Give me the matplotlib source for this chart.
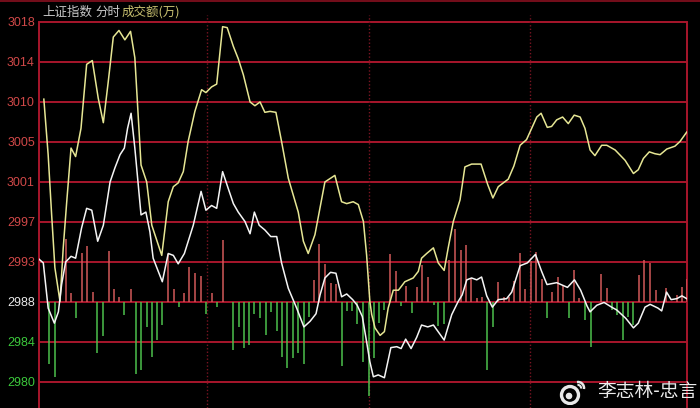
import matplotlib
matplotlib.use("Agg")
import matplotlib.pyplot as plt
from matplotlib.patches import Circle, Arc

# ---------------- data ----------------
prev_close = 2988.3
grid_step = 4.25
tick_labels = ["2980", "2984", "2988", "2993", "2997", "3001", "3005", "3010", "3014", "3018"]
tick_colors = ["#3cc83c", "#3cc83c", "#e8e8e8", "#d04848", "#d04848", "#d04848",
               "#d04848", "#d04848", "#d04848", "#d04848"]

# yellow line (minutes, price)
yellow_t = [-0.6, 1.0, 2.3, 3.5, 5.4, 6.6, 7.9, 9.5, 11.2, 13.2, 15.3, 17.4, 19.6, 21.5, 23.3,
            25.2, 27.3, 29.5, 31.6, 33.2, 35.5, 37.6, 39.5, 43.2, 45.6, 47.5, 49.3, 51.2, 53.0,
            55.5, 58.0, 59.6, 61.7, 63.6, 65.8, 67.5, 69.8, 71.6, 73.5, 76.0, 77.8, 79.7, 81.5,
            83.4, 85.6, 87.7, 90.2, 93.9, 95.8, 97.6, 100.1, 103.8, 107.5, 110.0, 111.9, 114.3,
            116.2, 118.1, 119.3, 120.5, 121.2, 122.4, 124.3, 125.9, 127.3, 129.2, 131.1, 133.5,
            136.6, 138.5, 139.7, 141.6, 144.1, 145.9, 148.1, 149.6, 151.5, 154.0, 155.8, 158.3,
            161.8, 164.3, 166.2, 168.2, 171.9, 174.0, 176.3, 178.7, 180.6, 182.5, 184.1, 186.4,
            188.0, 189.9, 192.1, 194.2, 196.4, 198.6, 200.4, 202.3, 204.1, 206.6, 208.5, 211.6,
            215.3, 218.4, 220.2, 222.1, 224.3, 226.4, 228.3, 230.8, 233.8, 235.7, 238.2]
yellow_v = [3009.8, 3003.9, 2997.5, 2991.9, 2988.3, 2994.0, 2998.9, 3004.6, 3003.7, 3006.7,
            3013.5, 3013.9, 3009.9, 3007.3, 3011.6, 3016.4, 3017.1, 3016.1, 3017.0, 3014.2,
            3002.8, 3001.0, 2996.4, 2993.2, 2998.9, 3000.5, 3000.9, 3002.1, 3005.3, 3008.5,
            3010.8, 3010.5, 3011.1, 3011.4, 3017.5, 3017.4, 3015.4, 3014.1, 3012.4, 3009.5,
            3009.1, 3009.5, 3008.4, 3008.5, 3008.4, 3005.3, 3001.4, 2997.8, 2994.7, 2993.4,
            2995.4, 3001.0, 3001.7, 2998.9, 2998.7, 2998.9, 2998.6, 2996.8, 2993.2, 2988.3,
            2986.9, 2985.5, 2984.7, 2985.1, 2987.6, 2989.5, 2989.5, 2990.4, 2990.8, 2991.5,
            2992.9, 2993.4, 2994.0, 2992.4, 2991.6, 2994.0, 2996.8, 2999.1, 3002.6, 3002.9,
            3002.9, 3000.7, 2999.3, 3000.5, 3001.3, 3002.7, 3004.9, 3005.5, 3006.7, 3007.9,
            3008.3, 3006.8, 3006.9, 3007.6, 3007.9, 3007.2, 3008.1, 3007.9, 3006.7, 3004.4,
            3003.8, 3004.9, 3004.9, 3004.4, 3003.3, 3001.9, 3002.3, 3003.5, 3004.2, 3004.0,
            3003.9, 3004.5, 3004.8, 3005.3, 3006.3]

# white line (minutes, price)
white_t = [-2.4, -0.8, 1.0, 3.3, 4.8, 6.0, 7.5, 9.5, 11.2, 13.4, 15.3, 17.2, 19.4, 21.5, 24.0,
           25.8, 27.7, 29.3, 30.5, 31.8, 33.2, 35.5, 37.3, 38.8, 40.0, 43.4, 45.6, 47.5, 49.3,
           51.6, 54.9, 57.8, 59.6, 61.7, 63.6, 65.8, 67.9, 69.8, 71.6, 74.1, 76.0, 77.6, 79.4,
           81.5, 83.7, 85.9, 87.7, 90.2, 93.3, 96.0, 98.3, 100.5, 102.0, 103.8, 105.9, 107.9,
           110.0, 111.9, 114.1, 115.8, 117.7, 119.3, 120.5, 121.8, 123.6, 125.9, 128.3, 130.5,
           132.1, 133.8, 135.8, 137.9, 139.7, 142.0, 144.1, 148.1, 150.9, 153.3, 154.8, 156.5,
           158.3, 160.2, 162.0, 163.9, 166.0, 168.2, 171.3, 173.2, 176.3, 179.0, 182.0, 184.3,
           186.3, 189.9, 193.9, 196.5, 198.8, 201.2, 202.3, 204.8, 207.5, 210.3, 212.2, 215.6,
           218.4, 220.2, 222.7, 224.6, 227.5, 228.9, 230.7, 232.4, 234.5, 236.4, 238.2]
white_v = [2992.8, 2992.4, 2987.6, 2986.0, 2987.2, 2990.1, 2992.5, 2993.1, 2992.9, 2996.1,
           2998.2, 2998.0, 2994.7, 2996.4, 3001.0, 3002.5, 3003.9, 3004.6, 3006.7, 3008.3,
           3004.6, 2997.5, 2997.8, 2995.7, 2992.9, 2990.4, 2993.4, 2993.2, 2992.3, 2993.4,
           2996.4, 3000.0, 2998.0, 2998.5, 2998.2, 3002.1, 3000.3, 2998.7, 2997.8, 2996.8,
           2995.5, 2997.8, 2996.4, 2995.9, 2995.2, 2995.2, 2992.4, 2989.7, 2987.6, 2985.6,
           2986.2, 2987.0, 2989.0, 2990.8, 2991.4, 2991.3, 2988.8, 2989.1, 2988.5, 2987.9,
           2986.7, 2984.0, 2981.9, 2980.3, 2980.5, 2980.2, 2983.4, 2983.5, 2983.3, 2984.3,
           2983.3, 2984.5, 2985.8, 2985.6, 2985.8, 2984.2, 2986.9, 2988.3, 2989.0, 2990.6,
           2990.8, 2990.6, 2990.9, 2988.9, 2987.7, 2988.5, 2988.6, 2989.3, 2992.1, 2992.4,
           2993.3, 2991.5, 2990.1, 2990.3, 2989.8, 2990.6, 2989.5, 2987.8, 2987.2, 2987.9,
           2988.2, 2987.7, 2987.4, 2986.5, 2985.5, 2986.0, 2987.7, 2988.0, 2987.6, 2987.3,
           2989.3, 2988.5, 2988.6, 2988.9, 2988.6]

# volume-style bars (minutes, signed height in index points from the baseline)
red_t = [7.5, 9.5, 13.4, 15.4, 17.5, 23.6, 25.4, 27.5, 31.6, 45.6, 47.6, 51.6, 53.4, 55.7,
         57.9, 61.8, 65.8, 99.8, 101.7, 103.8, 106.0, 107.9, 128.0, 130.1, 134.0, 137.9,
         140.0, 142.0, 150.0, 152.1, 154.2, 156.2, 158.2, 160.2, 162.0, 168.2, 170.2, 172.2,
         174.1, 176.3, 178.3, 180.3, 182.2, 184.3, 188.2, 190.2, 192.4, 196.4, 198.3, 206.4,
         208.4, 220.6, 222.4, 224.6, 226.6, 230.5, 234.5, 236.5, 238.3]
red_h = [6.64, 0.90, 5.15, 5.90, 1.04, 5.37, 1.28, 0.43, 1.33, 5.05, 1.33, 0.87, 3.67, 3.00,
         2.71, 0.87, 6.53, 2.28, 6.11, 4.02, 1.93, 1.84, 5.05, 3.24, 1.65, 1.49, 3.88, 2.60,
         4.36, 7.70, 5.42, 6.04, 2.47, 0.34, 0.51, 2.02, 0.53, 0.51, 2.15, 5.12, 1.35, 4.30,
         5.29, 2.41, 0.99, 2.64, 1.72, 3.35, 0.37, 2.90, 1.40, 2.82, 4.44, 4.06, 1.22, 1.40,
         0.69, 1.57, 2.39]
green_t = [1.3, 3.5, 11.3, 19.2, 21.4, 29.3, 33.6, 35.5, 37.6, 39.5, 41.5, 43.4, 49.6, 59.6,
           63.6, 69.8, 72.0, 73.7, 75.7, 77.6, 79.7, 81.8, 83.7, 85.9, 87.7, 89.8, 91.8, 93.9,
           96.0, 97.9, 110.0, 111.9, 114.0, 115.8, 118.1, 120.0, 121.9, 124.0, 125.9, 132.1,
           136.0, 144.2, 145.9, 148.0, 163.9, 166.1, 186.2, 194.4, 200.4, 202.5, 210.3, 212.3,
           214.4, 216.5, 218.4]
green_h = [-6.59, -7.99, -1.70, -5.47, -3.67, -1.40, -7.74, -7.23, -2.68, -5.87, -4.14, -2.47,
           -0.55, -1.36, -0.55, -5.10, -2.74, -4.91, -4.62, -1.36, -1.79, -3.61, -1.08, -3.13,
           -5.87, -7.03, -6.04, -5.42, -6.67, -1.65, -6.82, -0.96, -1.04, -2.41, -6.48, -9.99,
           -6.0, -2.32, -0.90, -0.53, -1.25, -0.37, -2.60, -2.39, -7.31, -2.71, -1.72, -1.72,
           -2.00, -4.80, -0.90, -1.43, -4.04, -1.62, -2.47]

hour_marks = [60, 120, 180]
title_parts = ["上证指数", "分时", "成交额(万)"]
watermark = "李志林-忠言"

# ---------------- figure ----------------
W, H = 700, 408
fig = plt.figure(figsize=(W / 100, H / 100), dpi=100, facecolor="black")

ax_top_px, ax_bot_px = 15, 408
ax_left_px, ax_right_px = 39, 687
ax = fig.add_axes([ax_left_px / W, 0, (ax_right_px - ax_left_px) / W, (ax_bot_px - ax_top_px) / H])
ax.set_facecolor("black")

levels = [prev_close + grid_step * k for k in range(-2, 8)]
px_per_pt = 40 / grid_step
ymax = prev_close + (301.5 - ax_top_px) / px_per_pt
ymin = prev_close - (ax_bot_px - 301.5) / px_per_pt
ax.set_ylim(ymin, ymax)
ax.set_xlim(-2.4, 238.3)

for s in ax.spines.values():
    s.set_visible(False)
ax.set_xticks([])
ax.set_yticks(levels)
ax.set_yticklabels(tick_labels, fontsize=9, family=["Liberation Sans", "DejaVu Sans"])
for lab, c in zip(ax.get_yticklabels(), tick_colors):
    lab.set_color(c)
ax.tick_params(axis="y", length=0, pad=3)

grid_col = "#a8162c"
for lv in levels:
    ax.axhline(lv, color=grid_col, lw=1.4, zorder=1)
for m in hour_marks:
    ax.axvline(m, color="#7a1422", lw=1.0, ls=(0, (1, 1.5)), zorder=1)
top_level = levels[-1]
ax.plot([-2.4, -2.4], [ymin, top_level], color=grid_col, lw=1.4, zorder=1, clip_on=False)
ax.plot([238.3, 238.3], [ymin, top_level], color=grid_col, lw=1.4, zorder=1, clip_on=False)

ax.vlines(red_t, prev_close, [prev_close + h for h in red_h], color="#d25a5a", lw=1.1, zorder=2)
ax.vlines(green_t, prev_close, [prev_close + h for h in green_h], color="#4cc04c", lw=1.1, zorder=2)

ax.plot(yellow_t, yellow_v, color="#e6e694", lw=1.1, zorder=3)
ax.plot(white_t, white_v, color="#f4f4f4", lw=1.1, zorder=4)

# top border line of the window
fig.add_artist(plt.Line2D([0, 1], [1 - 0.8 / H, 1 - 0.8 / H], color="#8a1020", lw=1.2,
                          transform=fig.transFigure))

# header
cjk = ["Noto Sans CJK SC", "DejaVu Sans"]
fig.text(42 / W, 1 - 12 / H, title_parts[0], color="#c8c8c8", fontsize=9, family=cjk, va="center")
fig.text(95 / W, 1 - 12 / H, title_parts[1], color="#c8c8c8", fontsize=9, family=cjk, va="center")
fig.text(122 / W, 1 - 12 / H, title_parts[2], color="#c8c070", fontsize=9, family=cjk, va="center")

# watermark with a simple weibo-like logo
fig.text(698 / W, 1 - 391 / H, watermark, color="#ececec", fontsize=13.5, family=cjk,
         ha="right", va="center")
logo_ax = fig.add_axes([558 / W, 1 - 405 / H, 32 / W, 26 / H])
logo_ax.set_xlim(0, 32)
logo_ax.set_ylim(0, 26)
logo_ax.set_aspect("equal")
logo_ax.axis("off")
logo_ax.add_patch(Circle((12, 10), 8.5, fill=False, ec="#e8e8e8", lw=2.4))
logo_ax.add_patch(Circle((11, 9), 2.6, color="#e8e8e8"))
logo_ax.add_patch(Arc((20, 17), 12, 12, theta1=-10, theta2=100, ec="#e8e8e8", lw=1.8))
logo_ax.add_patch(Arc((20, 17), 6, 6, theta1=-10, theta2=100, ec="#e8e8e8", lw=1.5))

fig.savefig("out.png", dpi=100, facecolor="black")
